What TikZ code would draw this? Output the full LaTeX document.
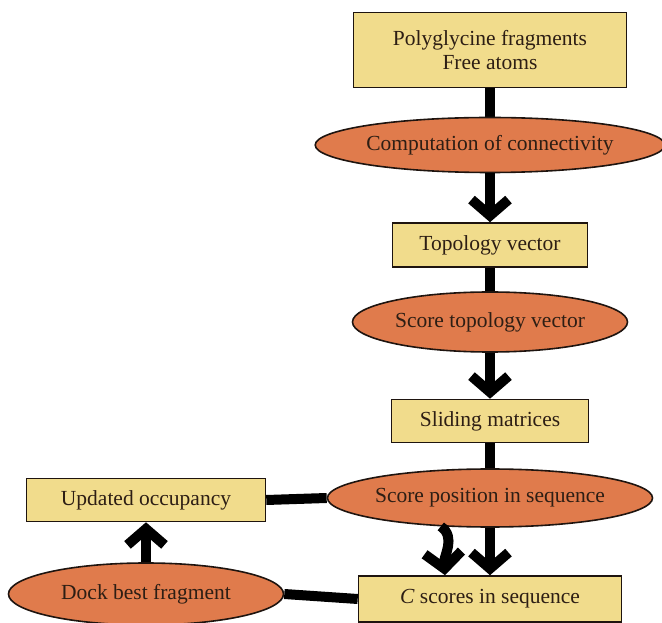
\documentclass[tikz,border=0pt]{standalone}
\usepackage{fontspec}
\setmainfont{Liberation Serif}
\usetikzlibrary{shapes.geometric,arrows.meta,backgrounds}
\definecolor{boxfill}{RGB}{241,220,140}
\definecolor{ellfill}{RGB}{224,123,76}
\definecolor{txt}{RGB}{45,30,20}
\definecolor{edge}{RGB}{30,20,15}
\tikzset{
  base/.style={draw=edge, line width=1.6pt, text=txt, font=\fontsize{21.5}{24}\selectfont, inner sep=0pt},
  boxnode/.style={base, rectangle, fill=boxfill},
  ellnode/.style={base, ellipse, fill=ellfill},
  conn/.style={line width=10pt, draw=black},
  arr/.style={conn, -{Straight Barb[length=16pt,width=37pt]}}
}
\begin{document}
\begin{tikzpicture}[x=1pt,y=1pt]
\useasboundingbox (0,0) rectangle (662,622);
\clip (0,0) rectangle (662,622);
% nodes
\node[boxnode, minimum width=273pt, minimum height=75pt, align=center] (b1) at (490,572) {Polyglycine fragments\\Free atoms};
\node[ellnode, minimum width=344pt, minimum height=55pt] (e1) at (490,477) {Computation of connectivity};
\node[boxnode, minimum width=195pt, minimum height=44pt] (tv) at (490,377) {Topology vector};
\node[ellnode, minimum width=275pt, minimum height=60pt] (e2) at (490,300) {Score topology vector};
\node[boxnode, minimum width=197pt, minimum height=43pt] (sm) at (490,201) {Sliding matrices};
\node[ellnode, minimum width=322pt, minimum height=58pt] (e3) at (490,124) {Score position in sequence};
\node[boxnode, minimum width=263pt, minimum height=46pt] (cs) at (490,23) {\textit{C} scores in sequence};
\node[boxnode, minimum width=239pt, minimum height=43pt] (uo) at (146,122) {Updated occupancy};
\node[ellnode, minimum width=275pt, minimum height=62pt] (dk) at (146,28) {Dock best fragment};
\coordinate (csin) at ([xshift=-45pt]cs.north);
% connectors
\begin{scope}[on background layer]
\draw[conn] (b1.south) -- (e1.north);
\draw[conn] (tv.south) -- (e2.north);
\draw[conn] (sm.south) -- (e3.north);
\draw[conn] (uo.east) -- (e3.west);
\draw[conn] (dk.east) -- (cs.west);
\end{scope}
\draw[arr] (e1.south) -- (tv.north);
\draw[arr] (e2.south) -- (sm.north);
\draw[arr] (e3.south) -- (cs.north);
\draw[arr] (e3.210) to[out=-35,in=95] (csin);
\draw[arr] (dk.north) -- (uo.south);
\end{tikzpicture}
\end{document}
